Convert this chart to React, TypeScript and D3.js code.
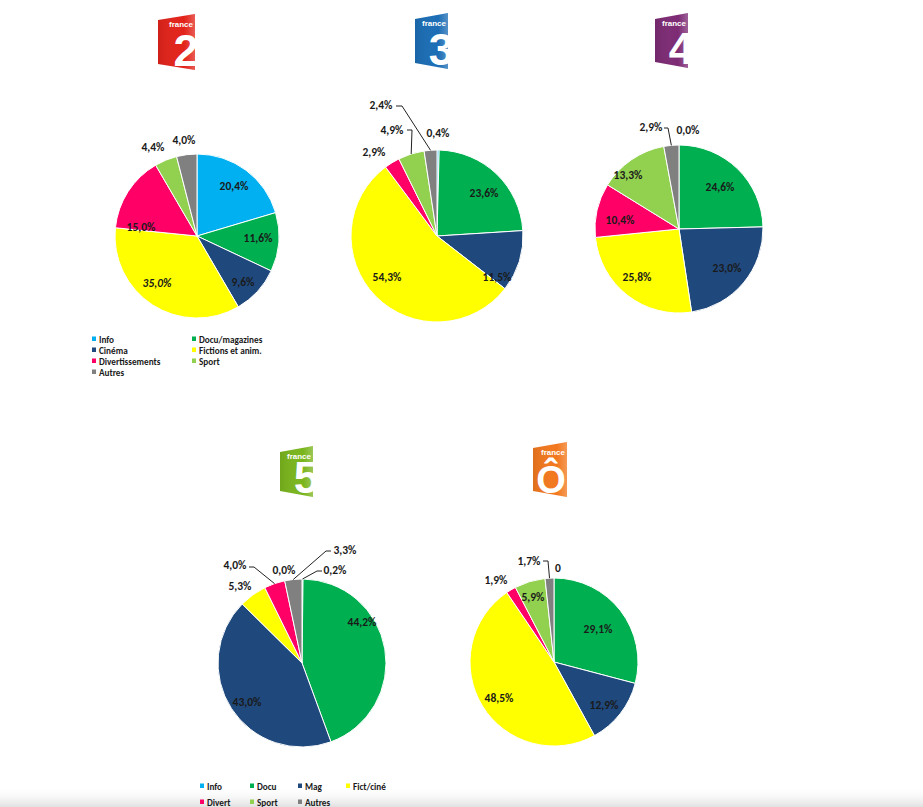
import React from 'react';
import * as d3 from 'd3';

// ---------- DATA ----------
const categoriesTop = ["Info", "Docu/magazines", "Cinéma", "Fictions et anim.", "Divertissements", "Sport", "Autres"];
const categoriesBottom = ["Info", "Docu", "Mag", "Fict/ciné", "Divert", "Sport", "Autres"];
const sliceColors = ["#00B0F0", "#00B050", "#1F497D", "#FFFF00", "#FF0066", "#92D050", "#808080"];

const france2Values = [20.4, 11.6, 9.6, 35.0, 15.0, 4.4, 4.0];
const france3Values = [0.4, 23.6, 11.5, 54.3, 2.9, 4.9, 2.4];
const france4Values = [0.0, 24.6, 23.0, 25.8, 10.4, 13.3, 2.9];
const france5Values = [0.2, 44.2, 43.0, 5.3, 4.0, 0.0, 3.3];
const franceOValues = [0.0, 29.1, 12.9, 48.5, 1.9, 5.9, 1.7];

const channelDigits = ["2", "3", "4", "5", "Ô"];
const channelColors = ["#E2231A", "#1B6DB5", "#7D2B74", "#7AB51D", "#F2781E"];

const fmt = (v: number) => v.toFixed(1).replace('.', ',') + '%';

// ---------- LAYOUT ----------
type Leader = { i: number; from: [number, number]; elbow: [number, number] };
type PieCfg = {
  values: number[];
  cx: number; cy: number; r: number;
  labelOffsets: [number, number][];
  leaders: Leader[];
  italic?: number[];
  labelOverride?: Record<number, string>;
};

const pies: PieCfg[] = [
  {
    values: france2Values, cx: 197, cy: 236, r: 82,
    labelOffsets: [[37, -50], [61, 2], [46, 46], [-40, 47], [-56, -9], [-44, -89], [-13, -96]],
    leaders: [], italic: [3],
  },
  {
    values: france3Values, cx: 437, cy: 236, r: 86,
    labelOffsets: [[1, -103], [47, -43], [60, 41], [-50, 41], [-63, -84], [-45, -106], [-56, -131]],
    leaders: [
      { i: 6, from: [-41, -130], elbow: [-35, -130] },
      { i: 5, from: [-30, -106], elbow: [-25, -106] },
    ],
  },
  {
    values: france4Values, cx: 679, cy: 229, r: 84,
    labelOffsets: [[9, -99], [41, -42], [48, 39], [-42, 48], [-59, -9], [-51, -54], [-28, -102]],
    leaders: [{ i: 6, from: [-15, -101], elbow: [-11, -101] }],
  },
  {
    values: france5Values, cx: 302, cy: 663, r: 84,
    labelOffsets: [[33, -93], [60, -41], [-55, 39], [-62, -77], [-67, -98], [-18, -93], [43, -113]],
    leaders: [
      { i: 4, from: [-53, -96], elbow: [-48, -96] },
      { i: 6, from: [29, -112], elbow: [24, -112] },
      { i: 0, from: [20, -92], elbow: [15, -92] },
    ],
  },
  {
    values: franceOValues, cx: 554, cy: 662, r: 84,
    labelOffsets: [[4, -94], [44, -33], [50, 43], [-55, 36], [-58, -82], [-21, -65], [-25, -101]],
    leaders: [{ i: 6, from: [-11, -101], elbow: [-6, -101] }],
    labelOverride: { 0: "0" },
  },
];

const logos = [
  { x: 158, y: 14, w: 37, h: 56 },
  { x: 415, y: 13, w: 33, h: 56 },
  { x: 655, y: 13, w: 33, h: 55 },
  { x: 280, y: 446, w: 33, h: 51 },
  { x: 533, y: 442, w: 34, h: 55 },
];

const FONT = "Carlito, Lato, 'Open Sans', sans-serif";

function Logo({ idx }: { idx: number }) {
  const { x, y, w, h } = logos[idx];
  const s = 6;
  const d = `M${x},${y + s} L${x + w},${y} L${x + w},${y + h} L${x},${y + h - s} Z`;
  const id = `clip-logo-${idx}`;
  const gid = `grad-logo-${idx}`;
  const isO = channelDigits[idx] === "Ô";
  return (
    <g>
      <defs>
        <clipPath id={id}><path d={d} /></clipPath>
        <linearGradient id={gid} x1="0" y1="0" x2="1" y2="0">
          <stop offset="0" stopColor="#000" stopOpacity={0.08} />
          <stop offset="0.7" stopColor="#fff" stopOpacity={0.0} />
          <stop offset="1" stopColor="#fff" stopOpacity={0.25} />
        </linearGradient>
      </defs>
      <path d={d} fill={channelColors[idx]} />
      <path d={d} fill={`url(#${gid})`} />
      <g clipPath={`url(#${id})`}>
        <text x={x + w - 2} y={y + 13} textAnchor="end" fill="#fff" fontSize={8} fontWeight="bold"
          fontFamily="'Liberation Sans', Arial, sans-serif">france</text>
        <text x={x + (isO ? w / 2 + 1 : w * 0.42)} y={y + h - 4} textAnchor={isO ? "middle" : "start"} fill="#fff"
          fontSize={isO ? 38 : 45} fontWeight="bold" fontFamily="'Liberation Sans', Arial, sans-serif">
          {channelDigits[idx]}
        </text>
      </g>
    </g>
  );
}

function Pie({ cfg }: { cfg: PieCfg }) {
  const arcs = d3.pie<number>().sort(null).value(d => d).startAngle(0).endAngle(2 * Math.PI)(cfg.values);
  const arcGen = d3.arc<d3.PieArcDatum<number>>().innerRadius(0).outerRadius(cfg.r);
  const edgePoint = (a: d3.PieArcDatum<number>): [number, number] => {
    const m = (a.startAngle + a.endAngle) / 2;
    return [cfg.cx + cfg.r * Math.sin(m), cfg.cy - cfg.r * Math.cos(m)];
  };
  return (
    <g>
      <g transform={`translate(${cfg.cx},${cfg.cy})`}>
        {arcs.map((a, i) => (
          a.value > 0 ? <path key={i} d={arcGen(a) || ''} fill={sliceColors[i]} stroke="#fff" strokeWidth={1} /> : null
        ))}
      </g>
      {cfg.leaders.map((l, k) => {
        const [ex, ey] = edgePoint(arcs[l.i]);
        const pts = [[cfg.cx + l.from[0], cfg.cy + l.from[1]], [cfg.cx + l.elbow[0], cfg.cy + l.elbow[1]], [ex, ey]];
        return <polyline key={k} points={pts.map(p => p.join(',')).join(' ')} fill="none" stroke="#222" strokeWidth={1} />;
      })}
      {arcs.map((a, i) => {
        const [dx, dy] = cfg.labelOffsets[i];
        const txt = cfg.labelOverride && cfg.labelOverride[i] !== undefined ? cfg.labelOverride[i] : fmt(a.value);
        return (
          <text key={i} x={cfg.cx + dx} y={cfg.cy + dy} textAnchor="middle" dominantBaseline="central"
            fontSize={11.5} fontWeight="bold" fontStyle={cfg.italic && cfg.italic.includes(i) ? "italic" : "normal"}
            fontFamily={FONT} fill="#1a1a1a">{txt}</text>
        );
      })}
    </g>
  );
}

function LegendTop() {
  const x0 = 92, x1 = 192, y0 = 339, dy = 11;
  return (
    <g>
      {categoriesTop.map((c, i) => {
        const x = i % 2 === 0 ? x0 : x1;
        const y = y0 + Math.floor(i / 2) * dy;
        return (
          <g key={i}>
            <rect x={x} y={y - 2.5} width={4} height={4.5} fill={sliceColors[i]} />
            <text x={x + 7} y={y} dominantBaseline="central" fontSize={9.2} fontWeight="bold"
              fontFamily={FONT} fill="#1a1a1a">{c}</text>
          </g>
        );
      })}
    </g>
  );
}

function LegendBottom() {
  const xs = [200, 250, 298, 346];
  const ys = [786, 802];
  return (
    <g>
      {categoriesBottom.map((c, i) => {
        const x = xs[i % 4], y = ys[Math.floor(i / 4)];
        return (
          <g key={i}>
            <rect x={x} y={y - 2.5} width={4} height={4.5} fill={sliceColors[i]} />
            <text x={x + 7} y={y} dominantBaseline="central" fontSize={9.2} fontWeight="bold"
              fontFamily={FONT} fill="#1a1a1a">{c}</text>
          </g>
        );
      })}
    </g>
  );
}

export default function App() {
  return (
    <svg width={923} height={807} style={{ position: 'absolute', left: 0, top: 0, background: '#fff' }}
      xmlns="http://www.w3.org/2000/svg">
      <defs>
        <linearGradient id="bottomShade" x1="0" y1="0" x2="0" y2="1">
          <stop offset="0" stopColor="#fff" stopOpacity={0} />
          <stop offset="1" stopColor="#d9d9d9" stopOpacity={0.8} />
        </linearGradient>
      </defs>
      <rect x={0} y={0} width={923} height={807} fill="#fff" />
      <rect x={0} y={786} width={923} height={21} fill="url(#bottomShade)" />
      {logos.map((_, i) => <Logo key={i} idx={i} />)}
      {pies.map((p, i) => <Pie key={i} cfg={p} />)}
      <LegendTop />
      <LegendBottom />
    </svg>
  );
}
